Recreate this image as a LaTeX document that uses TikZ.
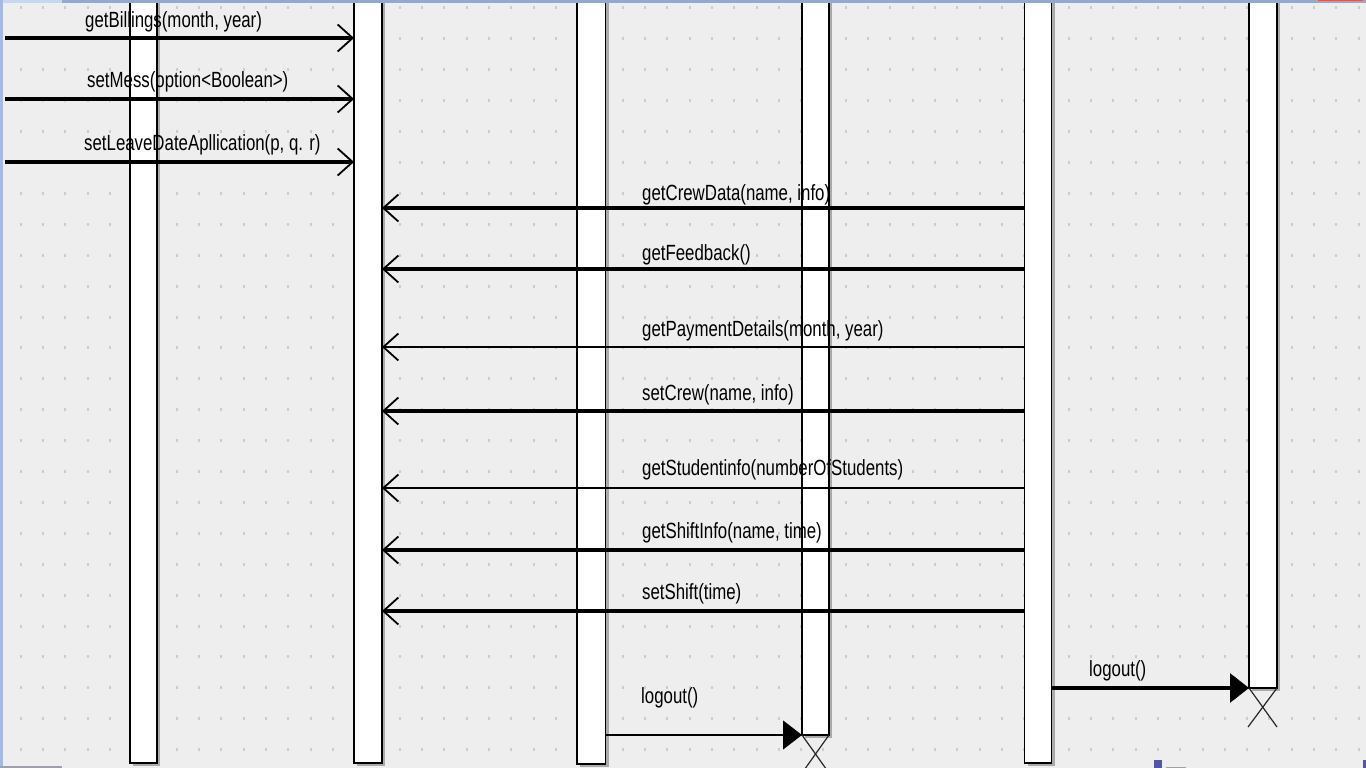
\documentclass[tikz,border=0pt]{standalone}
\usepackage{fontspec}
\newfontfamily\umlfont[FakeStretch=0.765]{Liberation Sans}
\usetikzlibrary{arrows.meta,shadows}
\definecolor{bg}{RGB}{238,238,238}
\definecolor{dotc}{RGB}{204,204,204}
\definecolor{shadowc}{RGB}{170,170,170}
\definecolor{framec}{RGB}{150,170,200}
\definecolor{framepale}{RGB}{200,215,235}
\definecolor{leftc}{RGB}{165,185,225}
\definecolor{redc}{RGB}{205,95,95}
\definecolor{handlec}{RGB}{85,85,165}
\definecolor{grayc}{RGB}{160,160,170}
\tikzset{
  bar/.style={draw=black, fill=white, line width=1.6pt, inner sep=0pt, outer sep=0pt,
    anchor=north west,
    drop shadow={shadow xshift=3pt, shadow yshift=-3pt, fill=shadowc, opacity=1}},
  msgthick/.style={line width=3.2pt},
  msgthin/.style={line width=1.1pt},
  opentip/.style={-{Straight Barb[length=15pt,width=27pt,line width=1.8pt]}},
  filltip/.style={-{Triangle[length=19pt,width=29pt]}},
  lbl/.style={anchor=base west, inner sep=0pt, font=\umlfont\fontsize{22}{26}\selectfont},
  xmark/.style={line width=1.2pt, black!85},
}
\begin{document}
\begin{tikzpicture}[x=1pt,y=-1pt]
\useasboundingbox (0,0) rectangle (1366,768);
\clip (0,0) rectangle (1366,768);
\fill[bg] (0,0) rectangle (1366,768);
% grid dots
\foreach \i in {0,...,60}{
  \foreach \j in {0,...,24}{
    \fill[dotc] ({20.6+22.3*\i-1},{8+30.9*\j-1.5}) rectangle ++(2,3);
  }
}
% lifeline bars
\node[bar, minimum width=27pt,   minimum height=770pt] (b1) at (130,-7) {};
\node[bar, minimum width=28pt,   minimum height=770pt] (b2) at (354,-7) {};
\node[bar, minimum width=28.5pt, minimum height=771pt] (b3) at (577,-7) {};
\node[bar, minimum width=27pt,   minimum height=742pt] (b4) at (802,-7) {};
\node[bar, minimum width=27pt,   minimum height=770pt] (b5) at (1024.5,-7) {};
\node[bar, minimum width=28pt,   minimum height=695pt] (b6) at (1249,-7) {};
% incoming messages from the left
\coordinate (s1) at (5,38);
\coordinate (s2) at (5,99);
\coordinate (s3) at (5,162);
\draw[msgthick, opentip] (s1) -- (s1 -| b2.west);
\draw[msgthick, opentip] (s2) -- (s2 -| b2.west);
\draw[msgthick, opentip] (s3) -- (s3 -| b2.west);
\node[lbl] (l1) at (85,28) {getBillings(month, year)};
\node[lbl] (l2) at (87,88) {setMess(option<Boolean>)};
\node[lbl] (l3) at (84,150) {setLeaveDateApllication(p, q. r)};
% messages from b5 to b2
\draw[msgthick, opentip] (b5.west |- 0,208) -- (b2.east |- 0,208);
\draw[msgthick, opentip] (b5.west |- 0,269) -- (b2.east |- 0,269);
\draw[msgthin,  opentip] (b5.west |- 0,347) -- (b2.east |- 0,347);
\draw[msgthick, opentip] (b5.west |- 0,411) -- (b2.east |- 0,411);
\draw[msgthin,  opentip] (b5.west |- 0,488) -- (b2.east |- 0,488);
\draw[msgthick, opentip] (b5.west |- 0,550) -- (b2.east |- 0,550);
\draw[msgthick, opentip] (b5.west |- 0,611) -- (b2.east |- 0,611);
\node[lbl] (l4) at (642,200) {getCrewData(name, info)};
\node[lbl] (l5) at (642,260) {getFeedback()};
\node[lbl] (l6) at (642,336) {getPaymentDetails(month, year)};
\node[lbl] (l7) at (642,400) {setCrew(name, info)};
\node[lbl] (l8) at (642,475) {getStudentinfo(numberOfStudents)};
\node[lbl] (l9) at (642,538) {getShiftInfo(name, time)};
\node[lbl] (l10) at (642,599) {setShift(time)};
% logout messages
\draw[msgthin,  filltip] (b3.east |- b4.south) -- (b4.south west);
\draw[msgthick, filltip] (b5.east |- b6.south) -- (b6.south west);
\node[lbl] (l11) at (641,703) {logout()};
\node[lbl] (l12) at (1089,676) {logout()};
% destruction marks
\draw[xmark] (b4.south west) -- ++(27,38);
\draw[xmark] (b4.south east) -- ++(-27,38);
\draw[xmark] (b6.south west) -- ++(28,39);
\draw[xmark] (b6.south east) -- ++(-29,39);
% window frame remnants
\fill[framec] (0,0) rectangle (1366,3);
\fill[framepale] (0,0) rectangle (62,3);
\fill[redc] (1318,0) rectangle (1363,1.5);
\fill[leftc] (0,0) rectangle (3,768);
\fill[grayc] (0,766) rectangle (62,768);
\fill[handlec] (1154,760) rectangle (1162,768);
\fill[handlec] (1363,760) rectangle (1366,768);
\fill[grayc] (1166,767) rectangle (1186,768);
\end{tikzpicture}
\end{document}
